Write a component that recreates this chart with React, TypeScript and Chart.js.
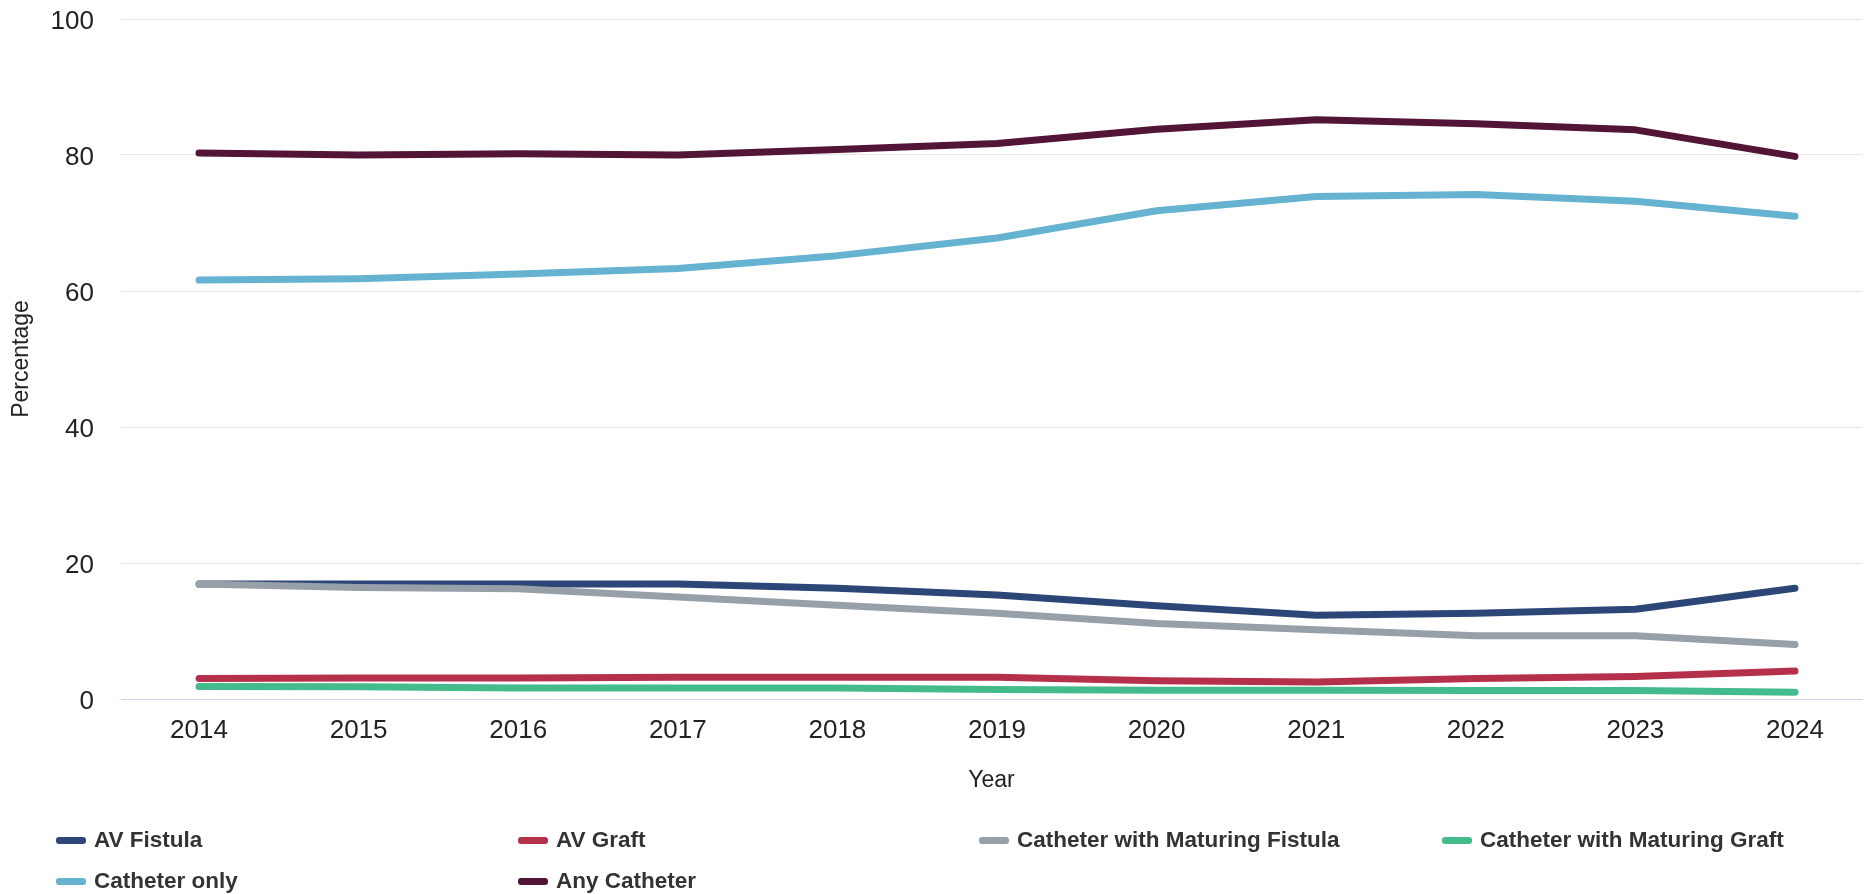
import React, { useEffect, useRef } from 'react';
import { Chart, registerables } from 'chart.js';

Chart.register(...registerables);

const years = [2014, 2015, 2016, 2017, 2018, 2019, 2020, 2021, 2022, 2023, 2024];
const avFistula = [16.9, 16.9, 16.9, 16.9, 16.3, 15.3, 13.7, 12.3, 12.6, 13.2, 16.3];
const avGraft = [3.0, 3.1, 3.1, 3.2, 3.2, 3.2, 2.7, 2.5, 3.0, 3.3, 4.1];
const cathMatFistula = [16.9, 16.4, 16.2, 15.0, 13.8, 12.6, 11.1, 10.2, 9.3, 9.3, 8.0];
const cathMatGraft = [1.85, 1.8, 1.6, 1.6, 1.6, 1.4, 1.3, 1.3, 1.25, 1.25, 1.0];
const cathOnly = [61.6, 61.8, 62.5, 63.3, 65.2, 67.8, 71.8, 73.9, 74.2, 73.2, 71.0];
const anyCath = [80.3, 80.0, 80.2, 80.0, 80.8, 81.7, 83.8, 85.2, 84.6, 83.7, 79.8];
const yTicks = [0, 20, 40, 60, 80, 100];

const seriesNames = [
  'AV Fistula',
  'AV Graft',
  'Catheter with Maturing Fistula',
  'Catheter with Maturing Graft',
  'Catheter only',
  'Any Catheter',
];
const seriesValues = [avFistula, avGraft, cathMatFistula, cathMatGraft, cathOnly, anyCath];
const seriesColors = ['#2c4677', '#b5314b', '#979fa8', '#44bb8c', '#66b2d1', '#521437'];

const FONT = "'Liberation Sans', Arial, Helvetica, sans-serif";

const legendPos = [
  { left: 56, top: 840 },
  { left: 518, top: 840 },
  { left: 979, top: 840 },
  { left: 1442, top: 840 },
  { left: 56, top: 881 },
  { left: 518, top: 881 },
];

export default function App() {
  const canvasRef = useRef<HTMLCanvasElement | null>(null);

  useEffect(() => {
    const canvas = canvasRef.current;
    if (!canvas) return;
    const chart = new Chart(canvas, {
      type: 'line',
      data: {
        datasets: seriesNames.map((name, i) => ({
          label: name,
          data: years.map((yr, j) => ({ x: yr, y: seriesValues[i][j] })),
          borderColor: seriesColors[i],
          backgroundColor: seriesColors[i],
          borderWidth: 7,
          borderCapStyle: 'round' as const,
          borderJoinStyle: 'round' as const,
          pointRadius: 0,
          pointHoverRadius: 0,
          tension: 0,
          fill: false,
          order: seriesNames.length - i,
        })),
      },
      options: {
        responsive: false,
        animation: false,
        events: [],
        layout: { padding: { top: 19, right: 3, bottom: 94, left: 0 } },
        plugins: {
          legend: { display: false },
          tooltip: { enabled: false },
        },
        scales: {
          x: {
            type: 'linear',
            min: 2013.511,
            max: 2024.42,
            afterBuildTicks: (scale: any) => {
              scale.ticks = years.map((v) => ({ value: v }));
            },
            afterFit: (scale: any) => {
              scale.height = 101;
              scale.paddingLeft = 0;
              scale.paddingRight = 0;
            },
            grid: { display: false, drawTicks: false },
            border: { display: true, color: '#ccd6eb', width: 1 },
            ticks: {
              padding: 16,
              color: '#222',
              font: { family: FONT, size: 26 },
              autoSkip: false,
              maxRotation: 0,
              callback: (v: any) => String(v),
            },
            title: {
              display: true,
              text: 'Year',
              color: '#222',
              font: { family: FONT, size: 23 },
              padding: { top: 4, bottom: 6 },
            },
          },
          y: {
            min: 0,
            max: 100,
            afterBuildTicks: (scale: any) => {
              scale.ticks = yTicks.map((v) => ({ value: v }));
            },
            afterFit: (scale: any) => {
              scale.width = 121;
              scale.paddingTop = 0;
              scale.paddingBottom = 0;
            },
            grid: { color: '#e6e6e6', lineWidth: 1, drawTicks: false },
            border: { display: false },
            ticks: {
              padding: 27,
              labelOffset: 3,
              color: '#222',
              font: { family: FONT, size: 26 },
              callback: (v: any) => String(v),
            },
            title: {
              display: true,
              text: 'Percentage',
              color: '#222',
              font: { family: FONT, size: 23 },
              padding: { top: 8, bottom: 0 },
            },
          },
        },
      },
    });
    return () => chart.destroy();
  }, []);

  return (
    <div
      style={{
        position: 'fixed',
        left: 0,
        top: 0,
        width: 1865,
        height: 894,
        background: '#fff',
        fontFamily: FONT,
      }}
    >
      <canvas ref={canvasRef} width={1865} height={894} style={{ display: 'block' }} />
      {seriesNames.map((name, i) => (
        <div
          key={name}
          style={{
            position: 'absolute',
            left: legendPos[i].left,
            top: legendPos[i].top,
            transform: 'translateY(-50%)',
            display: 'flex',
            alignItems: 'center',
            whiteSpace: 'nowrap',
          }}
        >
          <span
            style={{
              display: 'inline-block',
              width: 30,
              height: 7,
              borderRadius: 3,
              background: seriesColors[i],
              marginRight: 8,
            }}
          />
          <span style={{ fontSize: 22.5, fontWeight: 'bold', color: '#333', lineHeight: '26px' }}>{name}</span>
        </div>
      ))}
    </div>
  );
}
